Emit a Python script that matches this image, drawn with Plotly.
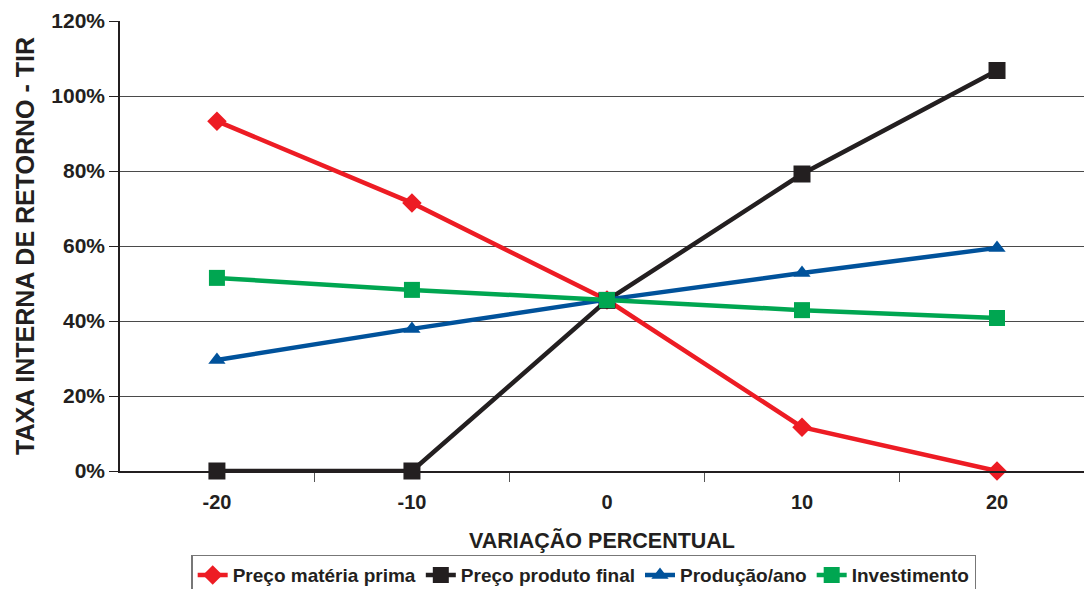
import plotly.graph_objects as go

# Percentage change applied to each input variable
variacao = [-20, -10, 0, 10, 20]

# Internal rate of return (%) for each sensitivity scenario
preco_materia_prima = [93.3, 71.5, 45.6, 11.7, 0.0]
preco_produto_final = [0.0, 0.0, 45.5, 79.2, 106.8]
producao_ano = [29.6, 37.9, 45.7, 52.8, 59.5]
investimento = [51.5, 48.3, 45.6, 42.9, 40.8]

y_ticks = [0, 20, 40, 60, 80, 100, 120]
y_tick_labels = ["0%", "20%", "40%", "60%", "80%", "100%", "120%"]
x_tick_labels = ["-20", "-10", "0", "10", "20"]

FONT = "Liberation Sans, Arial, sans-serif"

series = [
    ("Preço matéria prima", preco_materia_prima, "#ED1C24", "diamond", 15),
    ("Preço produto final", preco_produto_final, "#231F20", "square", 17),
    ("Produção/ano", producao_ano, "#00529B", "triangle-up", 15),
    ("Investimento", investimento, "#00A651", "square", 16),
]

fig = go.Figure()
for name, values, color, symbol, size in series:
    fig.add_trace(go.Scatter(
        x=variacao, y=values, name=name, mode="lines+markers",
        line=dict(color=color, width=4.5),
        marker=dict(symbol=symbol, size=size, color=color),
        cliponaxis=False,
    ))

fig.update_layout(
    width=1084, height=589,
    margin=dict(l=120, r=0, t=21, b=118, autoexpand=False),
    plot_bgcolor="white", paper_bgcolor="white",
    font=dict(family=FONT, color="#231F20", size=18, weight="bold"),
    showlegend=True,
    legend=dict(
        orientation="h", x=0.481, xanchor="center", y=-0.186, yanchor="top",
        bordercolor="#777777", borderwidth=1.5,
        font=dict(family=FONT, size=19, color="#231F20", weight="bold"),
        itemwidth=30,
    ),
    xaxis=dict(
        range=[-24.97, 24.46],
        tickvals=variacao, ticktext=x_tick_labels, ticks="",
        tickfont=dict(family=FONT, size=20, weight="bold"),
        ticklabelstandoff=12,
        showgrid=False, zeroline=False,
        showline=True, linecolor="#231F20", linewidth=1.5,
        minor=dict(tickvals=[-25, -15, -5, 5, 15, 25], ticks="outside",
                   ticklen=9, tickcolor="#555555", tickwidth=1, showgrid=False),
        title=dict(text="VARIAÇÃO PERCENTUAL",
                   font=dict(family=FONT, size=21.5, weight="bold"), standoff=21),
        fixedrange=True,
    ),
    yaxis=dict(
        range=[0, 120],
        tickvals=y_ticks, ticktext=y_tick_labels,
        ticks="outside", ticklen=9, tickcolor="#231F20", tickwidth=1,
        tickfont=dict(family=FONT, size=21, weight="bold"),
        showgrid=False, zeroline=False,
        showline=True, linecolor="#231F20", linewidth=1.5,
        minor=dict(tickvals=[20, 40, 60, 80, 100], showgrid=True,
                   gridcolor="#4a4a4a", gridwidth=1, ticks=""),
        title=dict(text="TAXA INTERNA DE RETORNO - TIR",
                   font=dict(family=FONT, size=25, weight="bold"), standoff=10),
        fixedrange=True,
    ),
)

fig.write_html("out.html")
